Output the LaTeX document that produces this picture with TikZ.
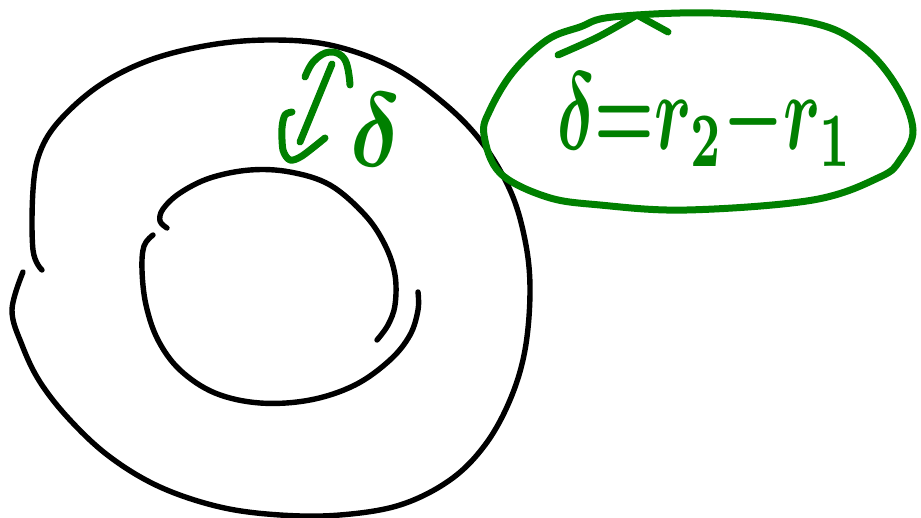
\documentclass[tikz,border=0pt]{standalone}
\usepackage{graphicx}
\definecolor{pen}{RGB}{0,128,0}
\tikzset{
  ink/.style={line width=5.4pt, line cap=round, line join=round, black},
  greenink/.style={line width=7pt, line cap=round, line join=round, pen},
  glyph/.style={text=pen, inner sep=0pt, font=\boldmath}
}
\begin{document}
\begin{tikzpicture}[x=1pt,y=-1pt]
\useasboundingbox (0,0) rectangle (921,518);
% outer circle
\draw[ink] plot[smooth, tension=0.6] coordinates {(42,270) (33,250) (33,190) (40,152) (60,120) (100,85) (150,60) (210,45) (270,40) (330,45) (390,66) (440,100) (480,140) (510,190) (525,240) (530,290) (525,350) (510,400) (485,445) (450,480) (400,505) (340,515) (280,515) (220,507) (160,487) (110,457) (70,420) (40,382) (22,345) (12,310) (23,272)};
% inner circle, upper piece
\draw[ink] plot[smooth, tension=0.6] coordinates {(167,228) (160,221) (163,209) (180,193) (210,178) (250,170) (290,172) (330,185) (365,215) (385,245) (395,275) (395,305) (388,325) (377,340)};
% inner circle, lower piece
\draw[ink] plot[smooth, tension=0.6] coordinates {(153,235) (144,246) (142,270) (146,305) (158,340) (180,370) (215,393) (260,403) (310,400) (355,385) (390,360) (410,335) (418,310) (418,292)};
% double arrow
\draw[greenink] (332,64) -- (300,142);
\draw[greenink] plot[smooth, tension=0.7] coordinates {(305,77) (314,61) (330,52) (345,60) (350,85)};
\draw[greenink] plot[smooth, tension=0.5] coordinates {(292,112) (285,115) (282,128) (283,150) (290,160) (302,156) (325,138)};
\node[glyph] (d) at (376,130) {\scalebox{9}[10.5]{$\delta$}};
% green ellipse
\draw[greenink] plot[smooth cycle, tension=0.6] coordinates {(613,17) (713,13) (813,23) (863,47) (897,87) (913,130) (900,160) (880,177) (813,200) (687,210) (600,205) (547,197) (500,173) (484,135) (490,110) (513,72) (547,40) (580,27)};
\draw[greenink] plot[smooth, tension=0.5] coordinates {(558,55) (598,37) (637,15)} -- (668,32);
\node[glyph, anchor=west] (eq) at (557,120) {\scalebox{6.7}[11]{$\delta{=}r_2{-}r_1$}};
\end{tikzpicture}
\end{document}
